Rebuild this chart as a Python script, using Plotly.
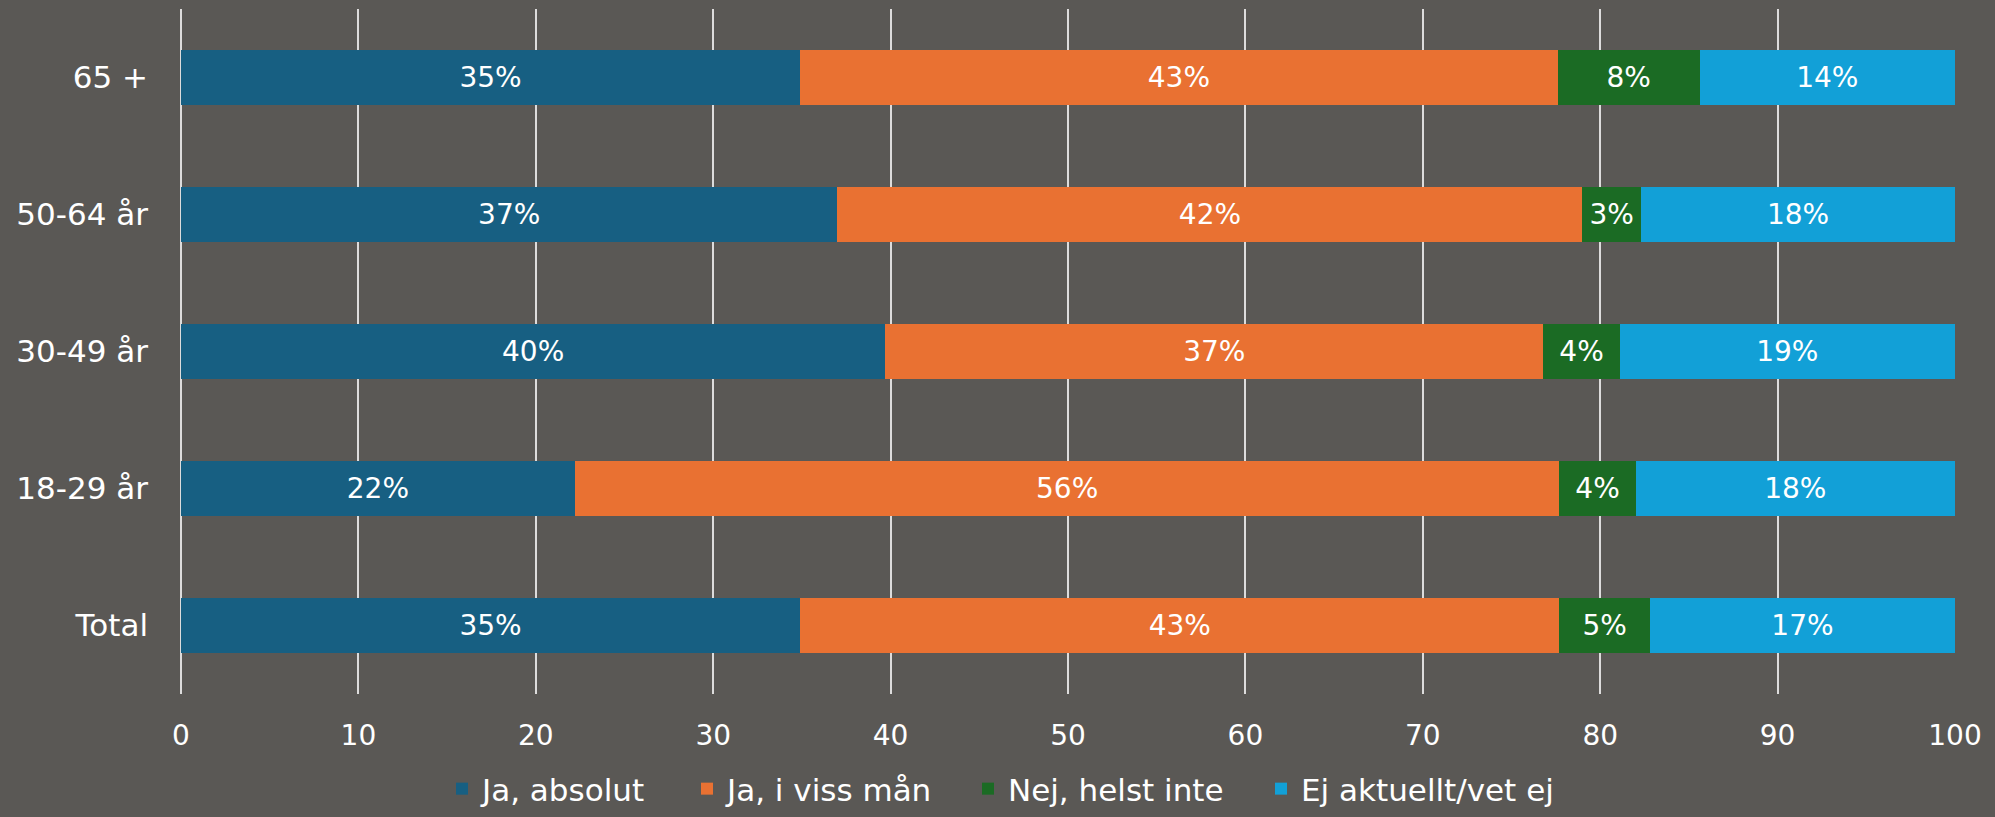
import plotly.graph_objects as go

categories = ["Total", "18-29 år", "30-49 år", "50-64 år", "65 +"]
series_names = ["Ja, absolut", "Ja, i viss mån", "Nej, helst inte", "Ej aktuellt/vet ej"]
ja_absolut = [34.9, 22.2, 39.7, 37.0, 34.9]
ja_viss = [42.8, 55.5, 37.1, 42.0, 42.7]
nej = [5.1, 4.3, 4.3, 3.3, 8.0]
ej = [17.2, 18.0, 18.9, 17.7, 14.4]
lbl_ja_absolut = ["35%", "22%", "40%", "37%", "35%"]
lbl_ja_viss = ["43%", "56%", "37%", "42%", "43%"]
lbl_nej = ["5%", "4%", "4%", "3%", "8%"]
lbl_ej = ["17%", "18%", "19%", "18%", "14%"]
x_ticks = [0, 10, 20, 30, 40, 50, 60, 70, 80, 90, 100]

colors = ["#175f82", "#e97132", "#1b6b24", "#12a0d7"]
FONT = "DejaVu Sans"
W, H = 1995, 817
ML, MR, MT, MB = 181, 40, 9, 123
legend_px = [442, 687, 968, 1261]  # left edges of legend entries (px)
legend_names = ["legend", "legend2", "legend3", "legend4"]

fig = go.Figure()
for name, vals, lbls, col, lg in zip(series_names,
                                     [ja_absolut, ja_viss, nej, ej],
                                     [lbl_ja_absolut, lbl_ja_viss, lbl_nej, lbl_ej],
                                     colors, legend_names):
    fig.add_trace(go.Bar(
        y=categories, x=vals, name=name, orientation="h",
        marker=dict(color=col, line=dict(width=0)),
        text=lbls, textposition="inside", insidetextanchor="middle",
        textfont=dict(color="white", size=28, family=FONT),
        constraintext="none", legend=lg, showlegend=True,
    ))

pw = W - ML - MR
ph = H - MT - MB
legends = {}
for lg, px in zip(legend_names, legend_px):
    legends[lg] = dict(orientation="h", x=(px - ML) / pw, xanchor="left",
                       y=-(H - 1 - (H - MB)) / ph, yanchor="bottom",
                       font=dict(size=31, color="white", family=FONT),
                       bgcolor="rgba(0,0,0,0)", borderwidth=0, visible=True)

fig.update_layout(
    barmode="stack",
    bargap=0.6,
    width=W, height=H,
    showlegend=True,
    paper_bgcolor="#5a5855",
    plot_bgcolor="#5a5855",
    margin=dict(l=ML, r=MR, t=MT, b=MB, autoexpand=False),
    font=dict(family=FONT, color="white", size=28),
    xaxis=dict(range=[0, 100], tickvals=x_ticks, showgrid=True, automargin=False,
               gridcolor="rgba(235,235,235,0.9)", gridwidth=1.5,
               zeroline=True, zerolinecolor="rgba(235,235,235,0.9)", zerolinewidth=1.5,
               showline=False, ticks="", ticklabelstandoff=22,
               tickfont=dict(size=28, color="white", family=FONT)),
    yaxis=dict(showgrid=False, zeroline=False, showline=False, ticks="", automargin=False,
               ticklabelstandoff=32,
               tickfont=dict(size=31, color="white", family=FONT)),
    **legends,
)

fig.write_html("out.html", config={"displayModeBar": False},
               post_script="document.body.style.margin='0';document.body.style.overflow='hidden';")
